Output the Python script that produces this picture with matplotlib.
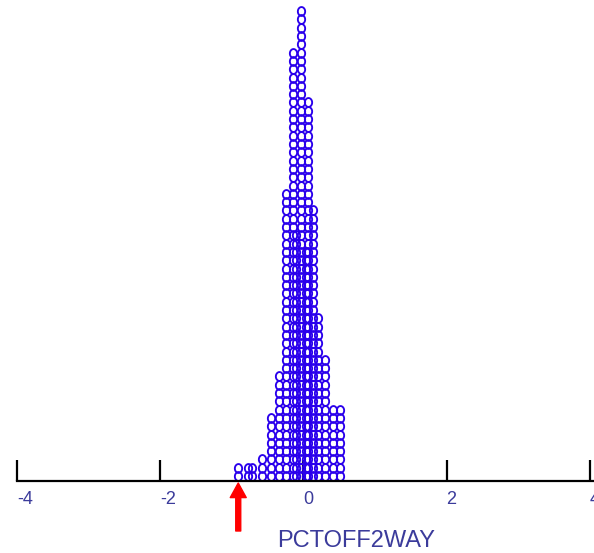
import numpy as np
import matplotlib
matplotlib.use("Agg")
import matplotlib.pyplot as plt
from matplotlib.path import Path

# ---- data ----
col_x = [-0.908, -0.768, -0.712, -0.573, -0.447, -0.335, -0.237, -0.140,
         -0.110, -0.032, 0.030, 0.070, 0.135, 0.209, 0.307, 0.419, 0.517]
col_count = [2, 2, 2, 3, 8, 13, 35, 52,
             30, 57, 28, 46, 33, 20, 15, 9, 9]
tick_values = [-4, -2, 0, 2, 4]
tick_labels = ["-4", "-2", "0", "2", "4"]
x_label = "PCTOFF2WAY"
marker_value = -0.91

W, H, DPI = 594, 553, 100
fig = plt.figure(figsize=(W / DPI, H / DPI), dpi=DPI)

ax_left, ax_right = 17, 593
ax_bottom_px = 481
ax = fig.add_axes([ax_left / W, (H - ax_bottom_px) / H,
                   (ax_right - ax_left) / W, ax_bottom_px / H])
row_px = 8.3
ymin = -5 / row_px
ax.set_ylim(ymin, ymin + ax_bottom_px / row_px)
ax.set_xlim(-4, -4 + (ax_right - ax_left) / 71.6)

# ellipse marker
t = np.linspace(0, 2 * np.pi, 60)
ell = Path(np.column_stack([0.82 * np.cos(t), np.sin(t)]), closed=True)

xs, ys = [], []
for x, c in zip(col_x, col_count):
    for i in range(c):
        xs.append(x)
        ys.append(i)
ax.plot(xs, ys, linestyle="none", marker=ell, markersize=6.4,
        markerfacecolor="none", markeredgecolor="#2a00ec",
        markeredgewidth=1.35, clip_on=False)

for s in ["top", "left", "right"]:
    ax.spines[s].set_visible(False)
ax.spines["bottom"].set_linewidth(1.6)
ax.spines["bottom"].set_color("black")
ax.set_yticks([])
ax.set_xticks(tick_values)
ax.set_xticklabels(tick_labels, ha="left", fontsize=13,
                   family="Liberation Sans", color="#3b3b9b")
ax.tick_params(axis="x", direction="in", length=15, width=1.6,
               color="black", pad=7)
ax.patch.set_visible(False)

fig.text(277 / W, 1 - 541 / H, x_label, ha="left", va="center",
         fontsize=17, family="Liberation Sans", color="#3b3b9b")

ax.annotate("", xy=(marker_value, H - 483), xycoords=("data", "figure pixels"),
            xytext=(marker_value, H - 531), textcoords=("data", "figure pixels"),
            arrowprops=dict(width=3.6, headwidth=11.5, headlength=10.5,
                            color="red", shrink=0),
            annotation_clip=False)

fig.savefig("out.png", dpi=DPI)
